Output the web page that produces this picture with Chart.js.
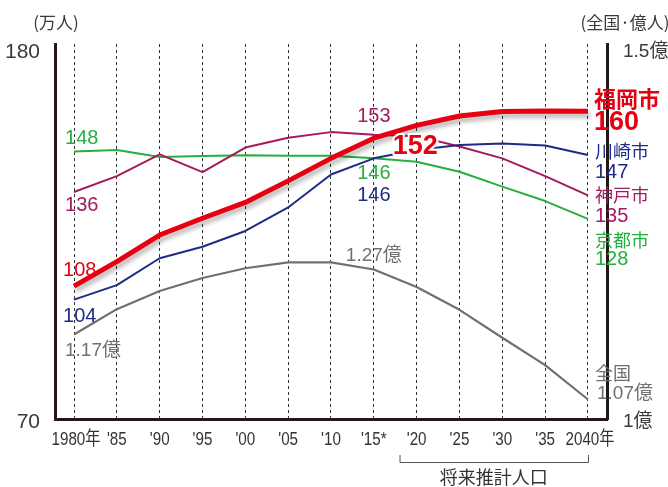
<!DOCTYPE html>
<html>
<head>
<meta charset="utf-8">
<script src="https://cdn.jsdelivr.net/npm/chart.js@4/dist/chart.umd.min.js"></script>
<style>
  html, body { margin: 0; padding: 0; background: #fff; }
  canvas { display: block; }
</style>
</head>
<body>
<canvas id="chart" width="668" height="487"></canvas>
<script>
// Census years and projection years (2020 onward are projections)
const years = ["1980年", "'85", "'90", "'95", "'00", "'05", "'10", "'15*", "'20", "'25", "'30", "'35", "2040年"];

// City populations, in 10,000 people
const fukuoka  = [108, 115.3, 123.2, 128.2, 132.9, 139.3, 146.0, 152, 155.8, 158.6, 159.9, 160.1, 160];
const kawasaki = [104, 108.3, 116.3, 119.7, 124.4, 131.4, 141.2, 146, 148.5, 150.0, 150.4, 149.8, 147];
const kobe     = [136, 140.7, 147.2, 141.9, 149.2, 152.1, 153.8, 153, 152.6, 149.5, 146.0, 140.7, 135];
const kyoto    = [148, 148.5, 146.4, 146.7, 146.9, 146.8, 146.8, 146, 145.0, 142.0, 137.6, 133.3, 128];

// Japan total, in 100 million people
const japan    = [1.17, 1.209, 1.237, 1.257, 1.272, 1.281, 1.281, 1.27, 1.243, 1.208, 1.165, 1.123, 1.07];

// Axis tick marks shown on each side
const cityTicks   = [70, 180];
const nationTicks = [1, 1.5];

// Scale ranges (the frame runs a little below the lowest tick)
const cityMin = 68.5, cityMax = 180;
const nationAxisMin = 0.9932, nationAxisMax = 1.5;
const nationLineMin = 1.04, nationLineMax = 1.617;
const xPad = 0.444;

const FONT_NUM = '"Liberation Sans", "Noto Sans CJK JP", sans-serif';
const FONT_JP = '"Noto Sans CJK JP", "Liberation Sans", sans-serif';

const series = {
  fukuoka:  { name: '福岡市', data: fukuoka,  color: '#e60012', width: 5,   axis: 'y'  },
  kawasaki: { name: '川崎市', data: kawasaki, color: '#1f2a88', width: 2,   axis: 'y'  },
  kobe:     { name: '神戸市', data: kobe,     color: '#a31a5e', width: 2,   axis: 'y'  },
  kyoto:    { name: '京都市', data: kyoto,    color: '#26ae3f', width: 2,   axis: 'y'  },
  japan:    { name: '全国',   data: japan,    color: '#707070', width: 2.2, axis: 'yJ' }
};
const drawOrder = ['fukuoka', 'kawasaki', 'kobe', 'kyoto', 'japan'];

const fmt = (key, v) => key === 'japan' ? v.toFixed(2) + '億' : String(Math.round(v));

// Value callouts placed next to a data point
const callouts = [
  { key: 'kyoto',    i: 0, dx: -9,  dy: -13 },
  { key: 'kobe',     i: 0, dx: -9,  dy: 14 },
  { key: 'fukuoka',  i: 0, dx: -11, dy: -16 },
  { key: 'kawasaki', i: 0, dx: -11, dy: 17 },
  { key: 'japan',    i: 0, dx: -9,  dy: 16, size: 19 },
  { key: 'kobe',     i: 7, dx: 0,   dy: -18, align: 'center' },
  { key: 'fukuoka',  i: 7, dx: 19,  dy: 8, bold: true, size: 27, halo: true },
  { key: 'kyoto',    i: 7, dx: 0,   dy: 15, align: 'center' },
  { key: 'kawasaki', i: 7, dx: 0,   dy: 37, align: 'center' },
  { key: 'japan',    i: 7, dx: 0,   dy: -14, align: 'center', size: 19 }
];

// Series names with final values at the right end
const endLabels = [
  { key: 'fukuoka',  dx: 6, nameDy: -13, valueDy: 11, bold: true, nameSize: 22, valueSize: 27 },
  { key: 'kawasaki', dx: 7, nameDy: -4,  valueDy: 17.5 },
  { key: 'kobe',     dx: 7, nameDy: 0,   valueDy: 21 },
  { key: 'kyoto',    dx: 7, nameDy: 21,  valueDy: 41 },
  { key: 'japan',    dx: 7, nameDy: -26, valueDy: -6, valueDx: 9, valueSize: 19 }
];

// Soft drop shadow under the thick Fukuoka line
const lineShadow = {
  id: 'lineShadow',
  beforeDatasetDraw(chart, args) {
    if (args.index !== 0) return;
    const ctx = chart.ctx;
    ctx.save();
    ctx.shadowColor = 'rgba(0,0,0,0.28)';
    ctx.shadowBlur = 4;
    ctx.shadowOffsetX = 2;
    ctx.shadowOffsetY = 4;
  },
  afterDatasetDraw(chart, args) {
    if (args.index !== 0) return;
    chart.ctx.restore();
  }
};

function drawText(ctx, text, x, y, opt) {
  ctx.font = (opt.bold ? 'bold ' : '') + opt.size + 'px ' + (opt.family || FONT_NUM);
  ctx.textAlign = opt.align || 'left';
  ctx.textBaseline = 'middle';
  if (opt.halo) {
    ctx.lineWidth = 4;
    ctx.strokeStyle = '#fff';
    ctx.lineJoin = 'round';
    ctx.strokeText(text, x, y);
  }
  ctx.fillStyle = opt.color;
  ctx.fillText(text, x, y);
}

// Year labels under the frame, set in a condensed width
const yearLabels = {
  id: 'yearLabels',
  afterDraw(chart) {
    const ctx = chart.ctx;
    const xs = chart.scales.x;
    const squeeze = 0.8;
    const y = chart.chartArea.bottom + 21;
    ctx.save();
    ctx.font = '19px ' + FONT_NUM;
    ctx.textAlign = 'center';
    ctx.textBaseline = 'middle';
    ctx.fillStyle = '#333';
    years.forEach((label, i) => {
      const x = xs.getPixelForValue(i) + (i === 0 || i === years.length - 1 ? 2 : 0);
      ctx.save();
      ctx.translate(x, y);
      ctx.scale(squeeze, 1);
      ctx.fillText(label, 0, 0);
      ctx.restore();
    });
    ctx.restore();
  }
};

const annotations = {
  id: 'annotations',
  afterDatasetsDraw(chart) {
    const ctx = chart.ctx;
    const xs = chart.scales.x;
    const area = chart.chartArea;
    ctx.save();

    callouts.forEach(c => {
      const s = series[c.key];
      const px = xs.getPixelForValue(c.i);
      const py = chart.scales[s.axis].getPixelForValue(s.data[c.i]);
      drawText(ctx, fmt(c.key, s.data[c.i]), px + c.dx, py + c.dy, {
        color: s.color, size: c.size || 20, bold: c.bold, align: c.align, halo: c.halo
      });
    });

    const last = years.length - 1;
    endLabels.forEach(e => {
      const s = series[e.key];
      const px = xs.getPixelForValue(last);
      const py = chart.scales[s.axis].getPixelForValue(s.data[last]);
      drawText(ctx, s.name, px + e.dx, py + e.nameDy, {
        color: s.color, size: e.nameSize || 18, bold: e.bold, family: FONT_JP
      });
      drawText(ctx, fmt(e.key, s.data[last]), px + (e.valueDx || e.dx), py + e.valueDy, {
        color: s.color, size: e.valueSize || 20, bold: e.bold
      });
    });

    // Unit captions above each axis
    drawText(ctx, '(万人)', area.left + 1, area.top - 21, { color: '#3a3a3a', size: 17, align: 'center', family: FONT_JP });
    drawText(ctx, '(全国·億人)', area.right + 18, area.top - 21, { color: '#3a3a3a', size: 17, align: 'center', family: FONT_JP });

    // Bracket marking the projection years
    const bx0 = xs.getPixelForValue(8 - 0.4);
    const bx1 = xs.getPixelForValue(last);
    const by0 = area.bottom + 36, by1 = area.bottom + 43;
    ctx.strokeStyle = '#555';
    ctx.lineWidth = 1;
    ctx.beginPath();
    ctx.moveTo(bx0 + 0.5, by0);
    ctx.lineTo(bx0 + 0.5, by1 + 0.5);
    ctx.lineTo(bx1 + 0.5, by1 + 0.5);
    ctx.lineTo(bx1 + 0.5, by0);
    ctx.stroke();
    drawText(ctx, '将来推計人口', (bx0 + bx1) / 2, area.bottom + 58, { color: '#333', size: 18, align: 'center', family: FONT_JP });

    ctx.restore();
  }
};

const datasets = drawOrder.map(k => ({
  label: series[k].name,
  data: series[k].data.map((v, i) => ({ x: i, y: v })),
  borderColor: series[k].color,
  borderWidth: series[k].width,
  pointRadius: 0,
  tension: 0,
  fill: false,
  yAxisID: series[k].axis,
  borderCapStyle: 'butt',
  borderJoinStyle: 'round'
}));

new Chart(document.getElementById('chart'), {
  type: 'line',
  data: { datasets },
  options: {
    responsive: false,
    animation: false,
    layout: { padding: { top: 44, left: 0, right: 0, bottom: 0 } },
    plugins: { legend: { display: false }, tooltip: { enabled: false } },
    scales: {
      x: {
        type: 'linear',
        min: -xPad,
        max: years.length - 1 + xPad,
        afterBuildTicks: s => { s.ticks = years.map((_, i) => ({ value: i })); },
        afterFit: s => { s.height = 68; },
        grid: { color: '#333', lineWidth: 1, drawTicks: false },
        border: { display: true, color: '#231815', width: 3, dash: [3, 3] },
        ticks: { display: false }
      },
      y: {
        type: 'linear', position: 'left',
        min: cityMin, max: cityMax,
        afterBuildTicks: s => { s.ticks = cityTicks.map(v => ({ value: v })); },
        afterFit: s => { s.width = 55; },
        grid: { display: false },
        border: { display: true, color: '#231815', width: 3 },
        ticks: { padding: 7, labelOffset: 8, color: '#3a3a3a', font: { family: FONT_NUM, size: 21 } }
      },
      yR: {
        type: 'linear', position: 'right',
        min: nationAxisMin, max: nationAxisMax,
        afterBuildTicks: s => { s.ticks = nationTicks.map(v => ({ value: v })); },
        afterFit: s => { s.width = 61; },
        grid: { display: false },
        border: { display: true, color: '#231815', width: 3 },
        ticks: { padding: 8, labelOffset: 8, color: '#3a3a3a', callback: v => v + '億', font: { family: FONT_NUM, size: 19 } }
      },
      yJ: {
        type: 'linear', display: false,
        min: nationLineMin, max: nationLineMax
      }
    }
  },
  plugins: [lineShadow, annotations, yearLabels]
});
</script>
</body>
</html>
